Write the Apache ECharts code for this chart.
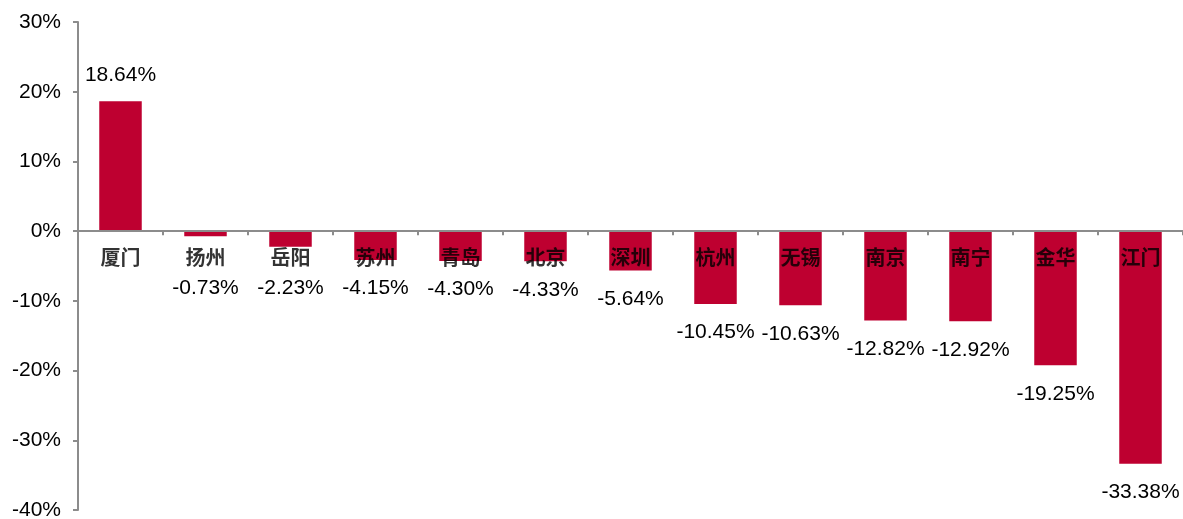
<!DOCTYPE html>
<html>
<head>
<meta charset="utf-8">
<script src="https://cdn.jsdelivr.net/npm/echarts@6/dist/echarts.min.js"></script>
<style>
html,body{margin:0;padding:0;background:#fff;}
#chart{width:1183px;height:519px;}
</style>
</head>
<body>
<div id="chart"></div>
<script>
const categories = ['厦门','扬州','岳阳','苏州','青岛','北京','深圳','杭州','无锡','南京','南宁','金华','江门'];
const values = [18.64,-0.73,-2.23,-4.15,-4.30,-4.33,-5.64,-10.45,-10.63,-12.82,-12.92,-19.25,-33.38];
const yMin = -40, yMax = 30, yStep = 10;

const chart = echarts.init(document.getElementById('chart'), null, {renderer:'canvas'});
const axisColor = '#8c8c8c';
const barColor = '#BE0030';
const numFont = '"Liberation Sans", Arial, sans-serif';

function buildData(offsets){
  return values.map((v,i)=>({
    value: v,
    label: {
      position: v >= 0 ? 'top' : 'bottom',
      distance: v >= 0 ? 15 : 18,
      offset: [0, offsets ? offsets[i] : 0]
    }
  }));
}

const option = {
  animation: false,
  grid: {left: 78, right: 0, top: 22, bottom: 9, containLabel: false, outerBoundsMode: 'none'},
  xAxis: {
    type: 'category',
    data: categories,
    z: 10,
    axisLine: {onZero: true, lineStyle: {color: axisColor, width: 2}},
    axisTick: {show: true, length: 4, lineStyle: {color: axisColor, width: 2}},
    axisLabel: {show: false},
    splitLine: {show: false}
  },
  yAxis: {
    type: 'value',
    min: yMin, max: yMax, interval: yStep,
    axisLine: {show: true, lineStyle: {color: axisColor, width: 2}},
    axisTick: {show: true, length: 5, lineStyle: {color: axisColor, width: 2}},
    axisLabel: {
      margin: 17,
      color: '#000',
      fontSize: 21,
      fontFamily: numFont,
      formatter: v => v + '%'
    },
    splitLine: {show: false}
  },
  series: [{
    type: 'bar',
    data: buildData(null),
    barWidth: '50%',
    itemStyle: {color: barColor},
    z: 2,
    label: {
      show: true,
      distance: 18,
      color: '#000',
      fontSize: 21,
      fontFamily: numFont,
      formatter: p => p.value.toFixed(2) + '%'
    }
  }, {
    // category names drawn just below the zero line, on top of the bars
    type: 'scatter',
    data: categories.map(c => [c, 0]),
    symbolSize: 0,
    silent: true,
    z: 5,
    label: {
      show: true,
      position: 'bottom',
      distance: 16,
      color: '#000',
      fontSize: 20,
      fontWeight: 'bold',
      fontFamily: '"Noto Sans CJK SC", sans-serif',
      formatter: p => categories[p.dataIndex]
    }
  }]
};
chart.setOption(option);

// push small negative labels below the category labels
const minCenter = 290;
const offsets = values.map(v => {
  if (v >= 0) return 0;
  const end = chart.convertToPixel({yAxisIndex: 0}, v);
  const center = end + 30;
  return center < minCenter ? (minCenter - center) : 0;
});
chart.setOption({series: [{data: buildData(offsets)}]});
</script>
</body>
</html>
